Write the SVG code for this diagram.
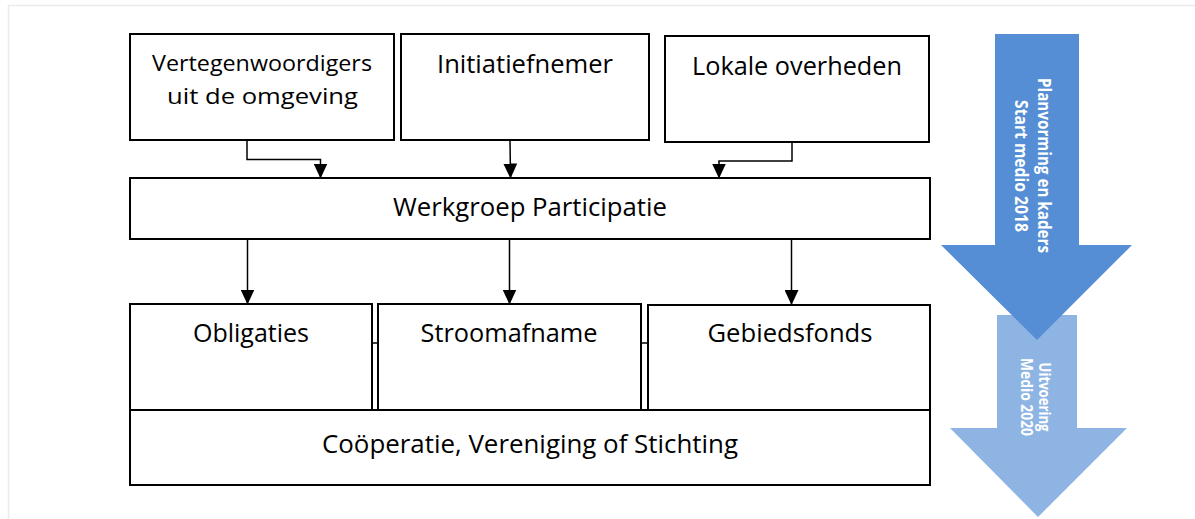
<svg xmlns="http://www.w3.org/2000/svg" width="1195" height="519" viewBox="0 0 1195 519">
<defs>
<style>
.box{fill:#fff;stroke:#000;stroke-width:2}
.lbl{font-family:"Open Sans","Liberation Sans",sans-serif;font-size:25px;fill:#000;text-anchor:middle}
.sm{font-size:22.5px}
.wl{font-family:"Open Sans","Liberation Sans",sans-serif;font-weight:bold;fill:#fff;text-anchor:middle}
.conn{fill:none;stroke:#000;stroke-width:1.5}
</style>
<marker id="ah" viewBox="0 0 15 14" refX="14" refY="7" markerWidth="15" markerHeight="14" markerUnits="userSpaceOnUse" orient="auto">
<path d="M0,0 L15,7 L0,14 Z" fill="#000"/>
</marker>
</defs>
<rect x="8.5" y="5.5" width="1220" height="540" fill="#fff" stroke="#ebebeb" stroke-width="1.5"/>

<g id="phase-uitvoering">
<polygon points="997,315 1077,315 1077,428 1127,428 1038,517 950,428 997,428" fill="#8EB4E3"/>
<text class="wl" font-size="15.5" textLength="69" lengthAdjust="spacingAndGlyphs" transform="translate(1039,397) rotate(90)">Uitvoering</text>
<text class="wl" font-size="15.5" textLength="78" lengthAdjust="spacingAndGlyphs" transform="translate(1021,397) rotate(90)">Medio 2020</text>
</g>
<g id="phase-planvorming">
<polygon points="995,34 1079,34 1079,245 1132,245 1037,340 941,245 995,245" fill="#558ED5"/>
<text class="wl" font-size="18" textLength="175" lengthAdjust="spacingAndGlyphs" transform="translate(1038,165.5) rotate(90)">Planvorming en kaders</text>
<text class="wl" font-size="18" textLength="132" lengthAdjust="spacingAndGlyphs" transform="translate(1015,166) rotate(90)">Start medio 2018</text>
</g>

<g id="connectors">
<polyline class="conn" points="247,140 247,159.5 320.5,159.5 320.5,177.5" marker-end="url(#ah)"/>
<polyline class="conn" points="510,140 510.5,177.5" marker-end="url(#ah)"/>
<polyline class="conn" points="792,142 792,161 719,161 719,177.5" marker-end="url(#ah)"/>
<polyline class="conn" points="247.5,239 247.5,303.5" marker-end="url(#ah)"/>
<polyline class="conn" points="509.5,239 509.5,303.5" marker-end="url(#ah)"/>
<polyline class="conn" points="791.5,239 791.5,304" marker-end="url(#ah)"/>
<line class="conn" x1="372" y1="343" x2="378" y2="343"/>
<line class="conn" x1="641" y1="343" x2="648" y2="343"/>
</g>

<g id="node-vertegenwoordigers">
<rect class="box" x="130" y="34" width="264" height="106"/>
<text class="lbl sm" x="262" y="71" textLength="220" lengthAdjust="spacingAndGlyphs">Vertegenwoordigers</text>
<text class="lbl sm" x="262.5" y="104" textLength="191" lengthAdjust="spacingAndGlyphs">uit de omgeving</text>
</g>
<g id="node-initiatiefnemer">
<rect class="box" x="401" y="34" width="248" height="106"/>
<text class="lbl" x="525" y="73" textLength="176" lengthAdjust="spacingAndGlyphs">Initiatiefnemer</text>
</g>
<g id="node-lokale-overheden">
<rect class="box" x="665" y="36" width="264" height="106"/>
<text class="lbl" x="797" y="75" textLength="210" lengthAdjust="spacingAndGlyphs">Lokale overheden</text>
</g>
<g id="node-werkgroep">
<rect class="box" x="130" y="178" width="800" height="61"/>
<text class="lbl" x="530" y="216" textLength="274" lengthAdjust="spacingAndGlyphs">Werkgroep Participatie</text>
</g>
<g id="node-cooperatie">
<rect class="box" x="130" y="410" width="800" height="75"/>
<text class="lbl" x="530" y="453" textLength="416" lengthAdjust="spacingAndGlyphs">Coöperatie, Vereniging of Stichting</text>
</g>
<g id="node-obligaties">
<rect class="box" x="130" y="304" width="242" height="106"/>
<text class="lbl" x="251" y="342" textLength="116" lengthAdjust="spacingAndGlyphs">Obligaties</text>
</g>
<g id="node-stroomafname">
<rect class="box" x="378" y="304" width="263" height="106"/>
<text class="lbl" x="509" y="342" textLength="177" lengthAdjust="spacingAndGlyphs">Stroomafname</text>
</g>
<g id="node-gebiedsfonds">
<rect class="box" x="648" y="305" width="282" height="105"/>
<text class="lbl" x="790" y="342" textLength="165" lengthAdjust="spacingAndGlyphs">Gebiedsfonds</text>
</g>
</svg>
